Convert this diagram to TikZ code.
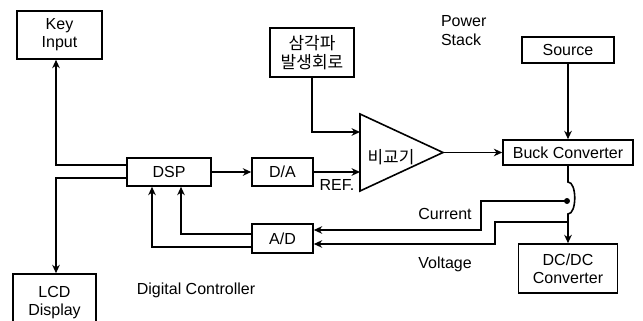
\documentclass[tikz,border=0pt]{standalone}
\usepackage{fontspec}
\setmainfont{Liberation Sans}
\newfontfamily\kofont{Noto Sans CJK KR}
\usetikzlibrary{arrows.meta,calc}

\begin{document}
\begin{tikzpicture}[x=0.5pt, y=-0.5pt,
  box/.style={rectangle, draw, thick, align=center, font=\fontsize{8}{9}\selectfont, inner sep=1pt},
  arrow/.style={-{Stealth[length=4.2pt,width=3.8pt]}, thick},
  label/.style={font=\fontsize{8}{9.5}\selectfont, align=left},
]
\clip (0,0) rectangle (643,321);

% === DIGITAL CONTROLLER ===
\node[box, minimum width=42.5pt, minimum height=24pt] (key)  at (59.5,35)  {Key\\Input};
\node[box, minimum width=42pt,   minimum height=14pt] (dsp)  at (169,172)  {DSP};
\node[box, minimum width=30.5pt, minimum height=14pt] (da)   at (282.5,172) {D/A};
\node[box, minimum width=30.5pt, minimum height=14.5pt] (ad) at (282.5,238.5) {A/D};
\node[box, minimum width=41.5pt, minimum height=29pt] (lcd)  at (54.5,303) {LCD\\Display};
\node[label] (dctl) at (196,290) {Digital Controller};

% === COMPARATOR ===
\node[box, font=\kofont\fontsize{8.5}{9.5}\selectfont, minimum width=42pt, minimum height=24.5pt] (tri) at (312,52.5) {삼각파\\발생회로};
\draw[thick] (360,114) -- (443,152.5) -- (360,191) -- cycle;
\coordinate (cmpA)   at (360,132);
\coordinate (cmpB)   at (360,172);
\coordinate (cmpout) at (443,152.5);
\node[font=\kofont\fontsize{8.5}{9.5}\selectfont] (cmp) at (391,157) {비교기};
\node[label] (ref) at (337,185) {REF.};

% === POWER STACK ===
\node[label, anchor=west] (pstack) at (434,30.5) {Power\\Stack};
\node[box, minimum width=46pt,   minimum height=13pt]   (src)  at (568,50)    {Source};
\node[box, minimum width=65pt,   minimum height=12.5pt] (buck) at (568,152.5) {Buck Converter};
\node[box, minimum width=49.5pt, minimum height=24.5pt] (dcdc) at (568,268.5) {DC/DC\\Converter};
\coordinate (isense) at (567,201);
\coordinate (vsense) at (568,222);
\node[label] (ilbl) at (445,214) {Current};
\node[label] (vlbl) at (445,264) {Voltage};

% signal path
\draw[arrow] ([yshift=3.5pt]dsp.west) -| ([xshift=-1.75pt]key.south);
\draw[arrow] ([yshift=-3pt]dsp.west) -| ([xshift=0.75pt]lcd.north);
\draw[arrow] (dsp) -- (da);
\draw[arrow] (da.east) -- (cmpB);
\draw[arrow] (tri.south) |- (cmpA);
\draw[arrow] (cmpout) -- (buck.west);
\draw[arrow] (src) -- (buck);
\draw[arrow] (buck.south) -- (568,182) .. controls (577,182) and (577,214) .. (568,214) -- (dcdc.north);

% feedback
\fill (isense) circle (1.5pt);
\draw[arrow] (isense) -- (481,201) |- ([yshift=4.25pt]ad.east);
\draw[arrow] (vsense) -- (495,222) |- ([yshift=-2.75pt]ad.east);
\draw[arrow] ([yshift=2.25pt]ad.west) -| ([xshift=6pt]dsp.south);
\draw[arrow] ([yshift=-4.25pt]ad.west) -| ([xshift=-8.5pt]dsp.south);
\end{tikzpicture}
\end{document}
